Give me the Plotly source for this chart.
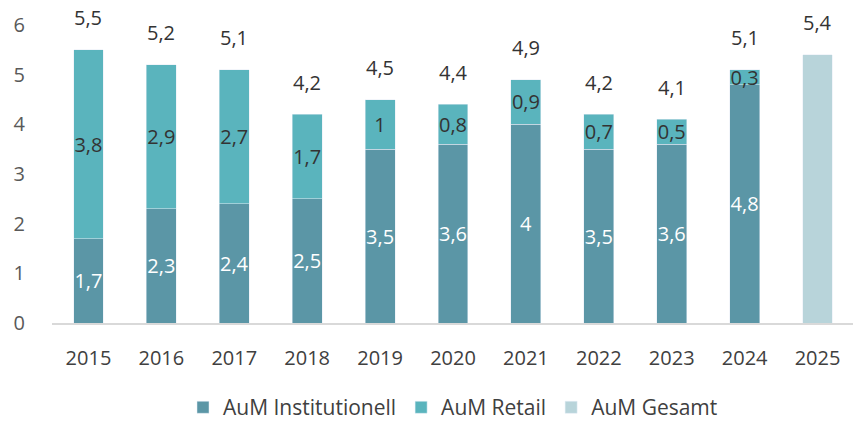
import plotly.graph_objects as go

years = ["2015", "2016", "2017", "2018", "2019", "2020", "2021", "2022", "2023", "2024", "2025"]
inst = [1.7, 2.3, 2.4, 2.5, 3.5, 3.6, 4.0, 3.5, 3.6, 4.8, None]
retail = [3.8, 2.9, 2.7, 1.7, 1.0, 0.8, 0.9, 0.7, 0.5, 0.3, None]
gesamt = [None, None, None, None, None, None, None, None, None, None, 5.4]
totals = [5.5, 5.2, 5.1, 4.2, 4.5, 4.4, 4.9, 4.2, 4.1, 5.1, 5.4]


def fmt(v):
    if v is None:
        return ""
    s = ("%g" % v)
    return s.replace(".", ",")


FONT = "Open Sans"
C_INST = "#5B96A6"
C_RET = "#5AB4BD"
C_GES = "#B8D4DA"

fig = go.Figure()
fig.add_trace(go.Bar(
    x=years, y=inst, name="AuM Institutionell", marker_color=C_INST,
    text=[fmt(v) for v in inst], textposition="inside", insidetextanchor="middle",
    textangle=0, constraintext="none",
    textfont=dict(color="white", size=20, family=FONT), cliponaxis=False,
))
fig.add_trace(go.Bar(
    x=years, y=retail, name="AuM Retail", marker_color=C_RET,
    text=[fmt(v) for v in retail], textposition="inside", insidetextanchor="middle",
    textangle=0, constraintext="none",
    textfont=dict(color="#333333", size=20, family=FONT), cliponaxis=False,
))
fig.add_trace(go.Bar(
    x=years, y=gesamt, name="AuM Gesamt", marker_color=C_GES,
    cliponaxis=False,
))

# category axis: annotations use the category serial number
for i, t in enumerate(totals):
    fig.add_annotation(x=i, y=t, text=fmt(t), showarrow=False, yanchor="middle",
                       yshift=32, font=dict(size=20, color="#333333", family=FONT))

# page body has an 8px margin, so the figure is sized to fit the 861x423 window
fig.update_layout(
    width=853, height=415,
    barmode="stack", bargap=0.59,
    plot_bgcolor="white", paper_bgcolor="white",
    margin=dict(l=44, r=7, t=17, b=100, autoexpand=False),
    font=dict(family=FONT, color="#404040"),
    uniformtext=dict(minsize=20, mode="show"),
    showlegend=True,
    legend=dict(orientation="h", x=0.5, xanchor="center",
                y=-0.284, yanchor="middle", traceorder="normal",
                font=dict(size=21, color="#404040", family=FONT)),
    xaxis=dict(type="category", categoryorder="array", categoryarray=years,
               showline=True, linecolor="#D9D9D9", linewidth=2, ticks="", automargin=False,
               tickfont=dict(size=20, color="#404040", family=FONT), ticklabelstandoff=16),
    yaxis=dict(range=[0, 6], dtick=1, showgrid=False, zeroline=False, ticks="", automargin=False,
               tickfont=dict(size=20, color="#595959", family=FONT), ticklabelstandoff=26),
)

fig.write_html("out.html")
